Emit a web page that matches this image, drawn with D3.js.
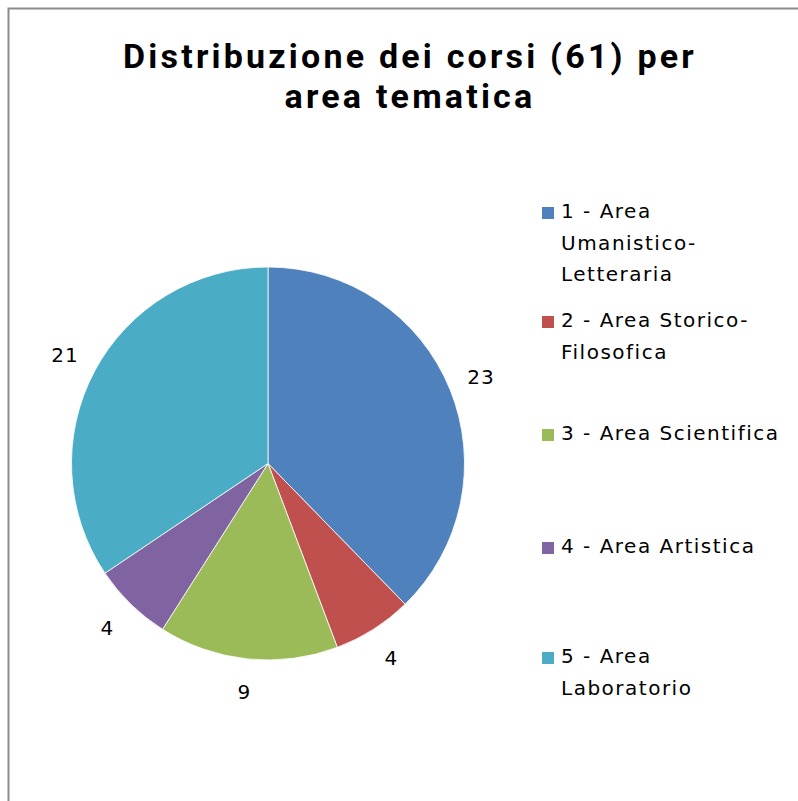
<!DOCTYPE html>
<html>
<head>
<meta charset="utf-8">
<script src="https://cdn.jsdelivr.net/npm/d3@7"></script>
<style>
  body { margin: 0; background: #fff; }
  svg { display: block; }
</style>
</head>
<body>
<div id="chart"></div>
<script>
// dati
const titleLines = ["Distribuzione dei corsi (61) per", "area tematica"];
const categories = [
    ["1 - Area", "Umanistico-", "Letteraria"],
    ["2 - Area Storico-", "Filosofica"],
    ["3 - Area Scientifica"],
    ["4 - Area Artistica"],
    ["5 - Area", "Laboratorio"]
];
const values = [23, 4, 9, 4, 21];
const colors = ["#4F81BD", "#C0504D", "#9BBB59", "#8064A2", "#4BACC6"];

const width = 798, height = 801;
const cx = 268, cy = 463.5, radius = 196.5;
const labelFont = "'DejaVu Sans', Tahoma, sans-serif";

const svg = d3.select("#chart").append("svg")
    .attr("width", width)
    .attr("height", height);

// cornice
svg.append("rect")
    .attr("x", 8.5)
    .attr("y", 8.5)
    .attr("width", width + 20)
    .attr("height", height + 20)
    .attr("fill", "#fff")
    .attr("stroke", "#8c8c8c")
    .attr("stroke-width", 2);

// titolo
svg.append("g")
    .selectAll("text")
    .data(titleLines)
    .enter()
    .append("text")
    .attr("x", 410)
    .attr("y", (d, i) => 68 + i * 40)
    .attr("text-anchor", "middle")
    .style("font-family", "Roboto, Lato, sans-serif")
    .style("font-weight", "bold")
    .style("font-size", "34px")
    .style("letter-spacing", "3.2px")
    .attr("fill", "#000")
    .text(d => d);

// torta
const pie = d3.pie().sort(null).value(d => d);
const arcs = pie(values);
const arc = d3.arc().innerRadius(0).outerRadius(radius);
const labelArc = d3.arc().innerRadius(230).outerRadius(230);

const pieG = svg.append("g")
    .attr("transform", "translate(" + cx + "," + cy + ")");

pieG.selectAll("path")
    .data(arcs)
    .enter()
    .append("path")
    .attr("d", arc)
    .attr("fill", (d, i) => colors[i])
    .attr("stroke", "#fff")
    .attr("stroke-width", 0.8);

pieG.selectAll("text")
    .data(arcs)
    .enter()
    .append("text")
    .attr("x", d => labelArc.centroid(d)[0])
    .attr("y", d => labelArc.centroid(d)[1])
    .attr("dy", "0.35em")
    .attr("text-anchor", "middle")
    .style("font-family", labelFont)
    .style("font-size", "20px")
    .style("letter-spacing", "1px")
    .attr("fill", "#000")
    .text(d => d.data);

// legenda
const legendY = [218, 327, 440, 553, 663];
const lineH = 31.5;

const legend = svg.append("g");
const items = legend.selectAll("g")
    .data(categories)
    .enter()
    .append("g")
    .attr("transform", (d, i) => "translate(0," + legendY[i] + ")");

items.append("rect")
    .attr("x", 542)
    .attr("y", -11)
    .attr("width", 12)
    .attr("height", 12)
    .attr("fill", (d, i) => colors[i]);

items.selectAll("text")
    .data(d => d)
    .enter()
    .append("text")
    .attr("x", 561)
    .attr("y", (d, j) => j * lineH)
    .style("font-family", labelFont)
    .style("font-size", "20px")
    .style("letter-spacing", "1.5px")
    .attr("fill", "#000")
    .text(d => d);
</script>
</body>
</html>
